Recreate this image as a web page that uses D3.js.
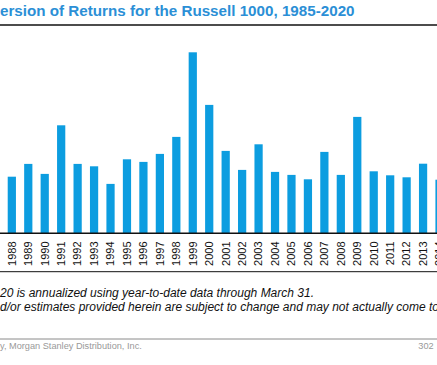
<!DOCTYPE html>
<html>
<head>
<meta charset="utf-8">
<script src="https://cdn.jsdelivr.net/npm/d3@7"></script>
<style>
  body { margin: 0; background: #fff; }
  svg { display: block; font-family: "Liberation Sans", Arial, sans-serif; }
</style>
</head>
<body>
<svg width="437" height="365"></svg>
<script>
// visible slice of the slide: 1988-2014 (% dispersion est.)
const years = ["1988","1989","1990","1991","1992","1993","1994","1995","1996","1997",
               "1998","1999","2000","2001","2002","2003","2004","2005","2006","2007",
               "2008","2009","2010","2011","2012","2013","2014"];
const dispersion = [28.3, 34.7, 29.7, 54.0, 34.7, 33.5, 24.7, 37.0, 35.7, 39.7,
                    48.2, 90.5, 64.2, 41.2, 31.7, 44.5, 30.7, 29.2, 27.0, 40.7,
                    29.2, 58.2, 31.0, 29.0, 28.0, 34.8, 26.8];

const titleText = "ersion of Returns for the Russell 1000, 1985-2020";
const notes = [
  "20 is annualized using year-to-date data through March 31.",
  "d/or estimates provided herein are subject to change and may not actually come to"
];
const footerText = "y, Morgan Stanley Distribution, Inc.";
const pageNo = "302";

const svg = d3.select("svg"),
    width = +svg.attr("width"),
    height = +svg.attr("height");

const baseY = 233.3;
const step = 16.45;

const x = d3.scaleBand()
    .domain(years)
    .range([3.6, 3.6 + years.length * step])
    .paddingInner(0.5)
    .paddingOuter(0.25);

const y = d3.scaleLinear()
    .domain([0, 100])
    .range([baseY, baseY - 200]);

// title + rule
svg.append("text")
    .attr("x", 0)
    .attr("y", 15.7)
    .attr("fill", "#2b8fd6")
    .attr("font-weight", "bold")
    .attr("font-size", 15.2)
    .text(titleText);

svg.append("line")
    .attr("x1", 0).attr("x2", width)
    .attr("y1", 25).attr("y2", 25)
    .attr("stroke", "#111")
    .attr("stroke-width", 1.5);

// bars
svg.append("g")
    .selectAll("rect")
    .data(years)
    .enter().append("rect")
    .attr("x", d => x(d))
    .attr("width", x.bandwidth())
    .attr("y", (d, i) => y(dispersion[i]))
    .attr("height", (d, i) => baseY - y(dispersion[i]))
    .attr("fill", "#0c9de0");

// x axis
const xAxis = svg.append("g")
    .attr("transform", `translate(0,${baseY})`)
    .call(d3.axisBottom(x).tickSize(0).tickPadding(0));
xAxis.select(".domain").remove();
xAxis.selectAll("text")
    .attr("font-family", "Liberation Sans, Arial, sans-serif")
    .attr("font-size", 11)
    .attr("fill", "#111")
    .attr("text-anchor", "end")
    .attr("transform", "rotate(-90)")
    .attr("x", -8.2)
    .attr("y", 0)
    .attr("dy", "0.35em");

svg.append("line")
    .attr("x1", 0).attr("x2", width)
    .attr("y1", baseY).attr("y2", baseY)
    .attr("stroke", "#111")
    .attr("stroke-width", 1.5);

svg.append("line")
    .attr("x1", 0).attr("x2", width)
    .attr("y1", 271.7).attr("y2", 271.7)
    .attr("stroke", "#111")
    .attr("stroke-width", 1);

// footnotes
svg.append("g")
    .selectAll("text")
    .data(notes)
    .enter().append("text")
    .attr("x", 0)
    .attr("y", (d, i) => 297 + i * 14)
    .attr("font-size", 12)
    .attr("font-style", "italic")
    .attr("fill", "#111")
    .text(d => d);

// footer
svg.append("line")
    .attr("x1", 0).attr("x2", width)
    .attr("y1", 339).attr("y2", 339)
    .attr("stroke", "#8a8a8a")
    .attr("stroke-width", 1);

svg.append("text")
    .attr("x", 0)
    .attr("y", 349)
    .attr("font-size", 9.2)
    .attr("fill", "#999")
    .text(footerText);

svg.append("text")
    .attr("x", 418.3)
    .attr("y", 349)
    .attr("font-size", 9.2)
    .attr("fill", "#999")
    .text(pageNo);
</script>
</body>
</html>
